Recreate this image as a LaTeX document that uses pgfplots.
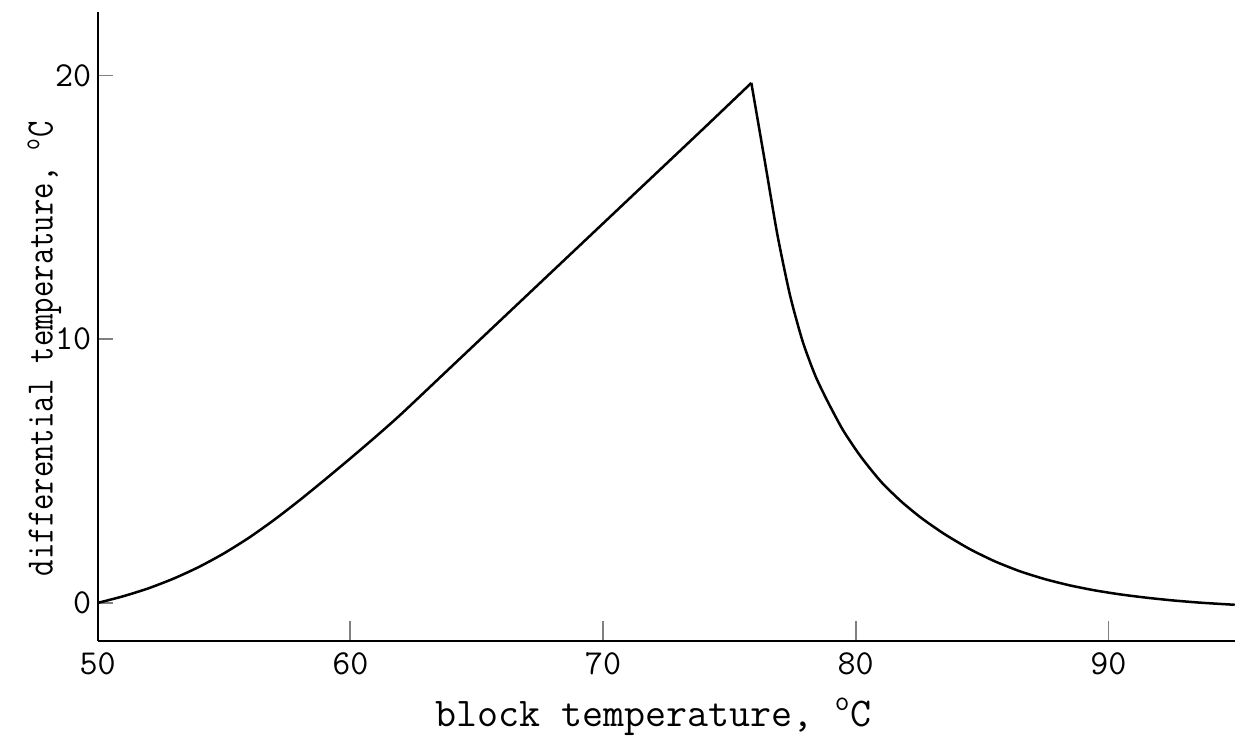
\documentclass[border={11pt 1.5pt 0pt 4.5pt}]{standalone}
\usepackage{graphicx}
\usepackage{pgfplots}
\pgfplotsset{compat=1.18}
\begin{document}
\begin{tikzpicture}
\begin{axis}[
  scale only axis,
  width=454.4pt, height=251.2pt,
  xmin=50, xmax=95, ymin=-1.44, ymax=22.4,
  axis x line*=bottom, axis y line*=left,
  axis line style={line width=0.8pt},
  xtick={50,60,70,80,90}, ytick={0,10,20},
  tick align=inside,
  major tick length=6pt,
  xtick style={/pgfplots/major tick length=8pt, line width=0.7pt},
  ytick style={line width=0.7pt},
  /pgf/number format/assume math mode=true,
  ticklabel style={font=\fontsize{14}{16}\selectfont\ttfamily},
  xticklabel style={yshift=-1pt},
  yticklabel style={xshift=1pt},
  xlabel={block temperature, \textsuperscript{o}C},
  ylabel={\scalebox{0.82}[1]{differential temperature, \textsuperscript{o}C}},
  xlabel style={font=\fontsize{16.3}{18}\selectfont\ttfamily, inner sep=0pt,
    at={([yshift=-34pt]axis description cs:0.489,0)}, anchor=base},
  ylabel style={font=\fontsize{15.5}{17}\selectfont\ttfamily, inner sep=0pt,
    at={([xshift=-18pt]axis description cs:0,0.465)}, anchor=base},
  clip=false,
]
\addplot[black, line width=1pt, smooth, tension=0.4] coordinates {
(50,0) (51,0.25) (52,0.55) (53,0.92) (54,1.36) (55,1.88) (56,2.48) (57,3.16)
(58,3.9) (59,4.68) (60,5.48) (61,6.3) (62,7.15) (64,8.96) (66,10.77)
(68,12.58) (70,14.39) (72,16.2) (74,18.01) (75.87,19.72)
};
\addplot[black, line width=1pt, smooth, tension=0.4] coordinates {
(75.87,19.72) (76.4,16.77) (76.9,13.97) (77.4,11.67) (77.9,9.92) (78.4,8.62)
(78.9,7.62) (79.5,6.55) (80.2,5.55) (81.0,4.6) (81.8,3.85) (82.6,3.22)
(83.5,2.62) (84.5,2.05) (85.5,1.58) (86.5,1.2) (87.5,0.9) (88.5,0.66)
(89.5,0.47) (90.5,0.32) (91.5,0.2) (92.5,0.1) (93.5,0.02) (94.3,-0.03) (95,-0.07)
};
\end{axis}
\end{tikzpicture}
\end{document}
